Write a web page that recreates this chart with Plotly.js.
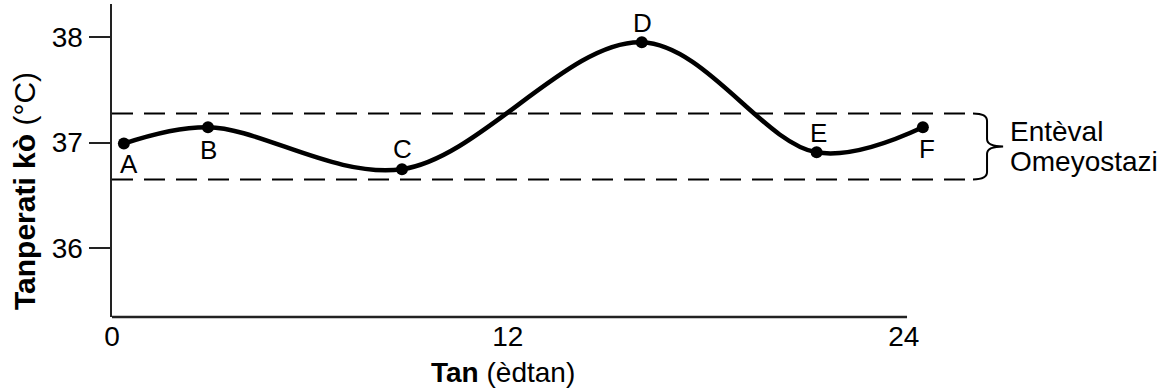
<!DOCTYPE html>
<html>
<head>
<meta charset="utf-8">
<script src="https://cdn.plot.ly/plotly-3.0.1.min.js"></script>
<style>html,body{margin:0;padding:0;background:#fff;}#chart{width:1165px;height:391px;}</style>
</head>
<body>
<div id="chart"></div>
<script>
// Data
const pointLabels = ['A', 'B', 'C', 'D', 'E', 'F'];
const hours = [0.36, 2.91, 8.79, 16.06, 21.36, 24.58];
const temps = [36.99, 37.145, 36.747, 37.95, 36.907, 37.145];
const bandHigh = 37.275;
const bandLow = 36.65;
const xTickVals = [0, 12, 24];
const yTickVals = [36, 37, 38];
const bandLabel = ['Entèval', 'Omeyostazi'];
const xTitle = '<b>Tan</b> (èdtan)';
const yTitle = '<b>Tanperati kò</b> (°C)';

const FONT = '"Liberation Sans", Arial, Helvetica, sans-serif';
const xMax = 26.1;
const bandMid = (bandHigh + bandLow) / 2;

const traces = [
  {
    x: hours, y: temps, type: 'scatter', mode: 'lines',
    line: {color: '#000', width: 4.5, shape: 'spline', smoothing: 1},
    hoverinfo: 'skip'
  },
  {
    x: hours, y: temps, type: 'scatter', mode: 'markers',
    marker: {color: '#000', size: 12},
    cliponaxis: false, hoverinfo: 'skip'
  }
];

// label offsets (px) per point: [xshift, yshift]
const labelShift = [[5, -20], [0, -23], [1, 20], [1, 19], [2, 19], [4, -22]];
const annotations = pointLabels.map((t, i) => ({
  x: hours[i], y: temps[i], xref: 'x', yref: 'y', text: t, showarrow: false,
  xshift: labelShift[i][0], yshift: labelShift[i][1],
  font: {family: FONT, size: 26, color: '#000'}
}));
annotations.push({
  xref: 'paper', yref: 'y', x: 1.041, y: bandMid, yshift: 15, xanchor: 'left', yanchor: 'middle',
  text: bandLabel[0], showarrow: false, font: {family: FONT, size: 28, color: '#000'}
});
annotations.push({
  xref: 'paper', yref: 'y', x: 1.041, y: bandMid, yshift: -15, xanchor: 'left', yanchor: 'middle',
  text: bandLabel[1], showarrow: false, font: {family: FONT, size: 28, color: '#000'}
});
annotations.push({
  xref: 'paper', yref: 'paper', x: -0.101, y: 0.4026, textangle: -90, xanchor: 'center', yanchor: 'middle',
  text: yTitle, showarrow: false, font: {family: FONT, size: 30, color: '#000'}
});
annotations.push({
  xref: 'paper', yref: 'paper', x: 0.454, y: -0.176, xanchor: 'center', yanchor: 'middle',
  text: xTitle, showarrow: false, font: {family: FONT, size: 28, color: '#000'}
});

const d = 0.07;
const bx0 = 1.0, bx1 = 1.0163, bx2 = 1.035;
const bracePath = `M ${bx0},${bandHigh} Q ${bx1},${bandHigh} ${bx1},${bandHigh - d} L ${bx1},${bandMid + d} Q ${bx1},${bandMid} ${bx2},${bandMid} Q ${bx1},${bandMid} ${bx1},${bandMid - d} L ${bx1},${bandLow + d} Q ${bx1},${bandLow} ${bx0},${bandLow}`;

const shapes = [
  {type: 'line', xref: 'x', yref: 'y', x0: 0, x1: xMax, y0: bandHigh, y1: bandHigh,
   line: {color: '#000', width: 2, dash: '21px,11px'}},
  {type: 'line', xref: 'x', yref: 'y', x0: 0, x1: xMax, y0: bandLow, y1: bandLow,
   line: {color: '#000', width: 2, dash: '21px,11px'}},
  {type: 'line', xref: 'x', yref: 'paper', x0: 0, x1: 24.1, y0: 0, y1: 0,
   line: {color: '#222', width: 2.5}},
  {type: 'path', xref: 'paper', yref: 'y', path: bracePath, line: {color: '#000', width: 2}}
];

const layout = {
  width: 1165, height: 391,
  margin: {l: 112, r: 192, t: 4, b: 74, pad: 0},
  paper_bgcolor: '#fff', plot_bgcolor: '#fff',
  showlegend: false,
  font: {family: FONT, color: '#000'},
  xaxis: {
    range: [0, xMax], showgrid: false, zeroline: false, showline: false,
    tickvals: xTickVals, ticktext: xTickVals.map(String),
    ticks: '',
    tickfont: {family: FONT, size: 28, color: '#000'}
  },
  yaxis: {
    range: [35.346, 38.313], showgrid: false, zeroline: false,
    showline: true, linecolor: '#222', linewidth: 2.5,
    tickvals: yTickVals, ticktext: yTickVals.map(String),
    ticks: 'outside', ticklen: 21, tickwidth: 2, tickcolor: '#222',
    tickfont: {family: FONT, size: 28, color: '#000'}
  },
  annotations: annotations,
  shapes: shapes
};

Plotly.newPlot('chart', traces, layout, {staticPlot: true, displayModeBar: false});
</script>
</body>
</html>
